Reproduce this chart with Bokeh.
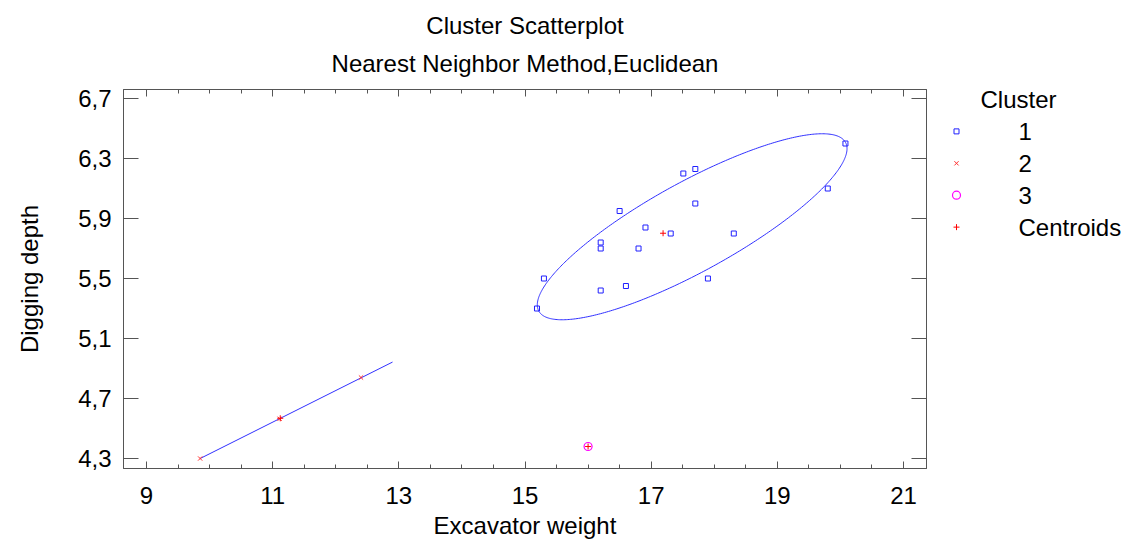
import numpy as np
from bokeh.plotting import figure
from bokeh.layouts import column, row
from bokeh.models import Range1d, LinearAxis, FixedTicker
from bokeh.core.properties import value
from bokeh.embed import file_html
from bokeh.resources import INLINE

# ---------------- data ----------------
cluster1_x = [20.08, 19.80, 17.70, 17.51, 17.70, 16.50, 16.91, 17.31, 18.31,
              16.20, 16.20, 16.80, 15.30, 17.90, 16.20, 16.60, 15.19]
cluster1_y = [6.40, 6.10, 6.23, 6.20, 6.00, 5.95, 5.84, 5.80, 5.80,
              5.74, 5.70, 5.70, 5.50, 5.50, 5.42, 5.45, 5.30]
cluster2_x = [9.85, 11.11, 12.40]
cluster2_y = [4.30, 4.565, 4.84]
cluster3_x = [16.00]
cluster3_y = [4.38]

# cluster-region outlines
ellipse1_center = (17.65, 5.845)
ellipse1_half = (2.455, 0.62)
ellipse1_phase = 0.574
segment2_x = [9.85, 12.90]
segment2_y = [4.30, 4.943]

x_ticks = [9, 11, 13, 15, 17, 19, 21]
x_tick_labels = ["9", "11", "13", "15", "17", "19", "21"]
y_ticks = [4.3, 4.7, 5.1, 5.5, 5.9, 6.3, 6.7]
y_tick_labels = ["4,3", "4,7", "5,1", "5,5", "5,9", "6,3", "6,7"]
legend_labels = ["1", "2", "3", "Centroids"]

title_lines = ["Cluster Scatterplot", "Nearest Neighbor Method,Euclidean"]
x_label = "Excavator weight"
y_label = "Digging depth"
legend_title = "Cluster"

FONT = "Liberation Sans"
FS = "24px"
AX = "#555555"
C1, C2, C3, CC = "#2020ff", "#ff3030", "#ff00ff", "#ff0000"

# centroids
cent_x = [float(np.mean(cluster1_x)), float(np.mean(cluster2_x)), float(np.mean(cluster3_x))]
cent_y = [float(np.mean(cluster1_y)), float(np.mean(cluster2_y)), float(np.mean(cluster3_y))]

# ---------------- layout (pixels) ----------------
TOTAL_W, TOTAL_H = 1126, 541
HEADER_H = 79
FRAME_L, FRAME_R = 123, 926
BORDER_T, BORDER_B = 10, 72
MAIN_W = FRAME_R + 10
MAIN_H = TOTAL_H - HEADER_H
LEG_W = TOTAL_W - MAIN_W


def blank(width, height, top=0, bottom=0):
    f = figure(width=width, height=height, output_backend="svg", toolbar_location=None,
               x_range=Range1d(0, width), y_range=Range1d(height - bottom, top),
               min_border_left=0, min_border_right=0,
               min_border_top=top, min_border_bottom=bottom,
               x_axis_location=None, y_axis_location=None)
    f.xgrid.visible = False
    f.ygrid.visible = False
    f.outline_line_color = None
    f.border_fill_color = "white"
    f.background_fill_color = "white"
    return f


# ---------------- header (titles) ----------------
hdr = blank(TOTAL_W, HEADER_H)
hdr.text(x=[(FRAME_L + FRAME_R) / 2] * 2, y=[25, 63], text=title_lines,
         text_font=value(FONT), text_font_size=value(FS), text_color="black",
         text_align="center", text_baseline="middle")

# ---------------- main plot ----------------
p = figure(width=MAIN_W, height=MAIN_H, output_backend="svg", toolbar_location=None,
           x_range=Range1d(8.635, 21.365), y_range=Range1d(4.2335, 6.76),
           min_border_left=FRAME_L, min_border_right=MAIN_W - FRAME_R,
           min_border_top=BORDER_T, min_border_bottom=BORDER_B,
           x_axis_location=None, y_axis_location=None)
p.xgrid.visible = False
p.ygrid.visible = False
p.outline_line_color = AX
p.outline_line_width = 1
p.background_fill_color = "white"
p.border_fill_color = "white"

minor_x = [float(v) for v in np.arange(8.5, 21.51, 0.5) if v not in x_ticks]


def make_x(labels=True):
    ax = LinearAxis(ticker=FixedTicker(ticks=x_ticks, minor_ticks=minor_x))
    ax.major_tick_in = 7
    ax.major_tick_out = 0
    ax.minor_tick_in = 4
    ax.minor_tick_out = 0
    ax.axis_line_color = AX
    ax.major_tick_line_color = AX
    ax.minor_tick_line_color = AX
    ax.major_label_text_font = FONT
    ax.major_label_text_color = "black"
    if labels:
        ax.major_label_overrides = {t: l for t, l in zip(x_ticks, x_tick_labels)}
        ax.major_label_text_font_size = FS
        ax.major_label_standoff = 18
        ax.axis_label = x_label
        ax.axis_label_text_font = FONT
        ax.axis_label_text_font_size = FS
        ax.axis_label_text_font_style = "normal"
        ax.axis_label_text_color = "black"
        ax.axis_label_standoff = 5
    else:
        ax.major_label_overrides = {t: "" for t in x_ticks}
        ax.major_label_text_font_size = "0px"
        ax.major_label_standoff = 0
    return ax


def make_y(labels=True):
    ax = LinearAxis(ticker=FixedTicker(ticks=y_ticks, minor_ticks=[]))
    ax.major_tick_in = 15
    ax.major_tick_out = 0
    ax.minor_tick_in = 0
    ax.minor_tick_out = 0
    ax.axis_line_color = AX
    ax.major_tick_line_color = AX
    ax.major_label_text_font = FONT
    ax.major_label_text_color = "black"
    if labels:
        ax.major_label_overrides = {t: l for t, l in zip(y_ticks, y_tick_labels)}
        ax.major_label_text_font_size = FS
        ax.major_label_standoff = 12
        ax.axis_label = y_label
        ax.axis_label_text_font = FONT
        ax.axis_label_text_font_size = FS
        ax.axis_label_text_font_style = "normal"
        ax.axis_label_text_color = "black"
        ax.axis_label_standoff = 32
    else:
        ax.major_label_overrides = {t: "" for t in y_ticks}
        ax.major_label_text_font_size = "0px"
        ax.major_label_standoff = 0
    return ax


p.add_layout(make_x(True), "below")
p.add_layout(make_x(False), "above")
p.add_layout(make_y(True), "left")
p.add_layout(make_y(False), "right")

t = np.linspace(0, 2 * np.pi, 400)
ex = ellipse1_center[0] + ellipse1_half[0] * np.cos(t)
ey = ellipse1_center[1] + ellipse1_half[1] * np.cos(t - ellipse1_phase)
p.line(ex, ey, line_color="#3030ff", line_width=1)
p.line(segment2_x, segment2_y, line_color="#3030ff", line_width=1)

p.scatter(cluster1_x, cluster1_y, marker="square", size=5, fill_color=None,
          line_color=C1, line_width=1)
p.scatter(cluster2_x, cluster2_y, marker="x", size=6, line_color=C2, line_width=1)
p.scatter(cluster3_x, cluster3_y, marker="circle", size=8, fill_color=None,
          line_color=C3, line_width=1.2)
p.scatter(cent_x, cent_y, marker="cross", size=6, line_color=CC, line_width=1)

# ---------------- legend panel (frame aligned with the main plot's frame) ----------------
leg = blank(LEG_W, MAIN_H, top=BORDER_T, bottom=BORDER_B)
LEG_TOP = 52       # first row centre, panel pixels
LEG_STEP = 32
rows_y = [LEG_TOP + i * LEG_STEP for i in range(len(legend_labels))]
MARK_X, LABEL_X, TITLE_X = 20, 82, 44
leg.text(x=[TITLE_X], y=[LEG_TOP - LEG_STEP], text=[legend_title],
         text_font=value(FONT), text_font_size=value(FS), text_color="black",
         text_align="left", text_baseline="middle")
leg.text(x=[LABEL_X] * len(legend_labels), y=rows_y, text=legend_labels,
         text_font=value(FONT), text_font_size=value(FS), text_color="black",
         text_align="left", text_baseline="middle")
leg.scatter([MARK_X], [rows_y[0]], marker="square", size=5, fill_color=None,
            line_color=C1, line_width=1)
leg.scatter([MARK_X], [rows_y[1]], marker="x", size=6, line_color=C2, line_width=1)
leg.scatter([MARK_X], [rows_y[2]], marker="circle", size=8, fill_color=None,
            line_color=C3, line_width=1.2)
leg.scatter([MARK_X], [rows_y[3]], marker="cross", size=6, line_color=CC, line_width=1)

layout = column(hdr, row(p, leg, spacing=0), spacing=0)
open("out.html", "w").write(file_html(layout, INLINE))
